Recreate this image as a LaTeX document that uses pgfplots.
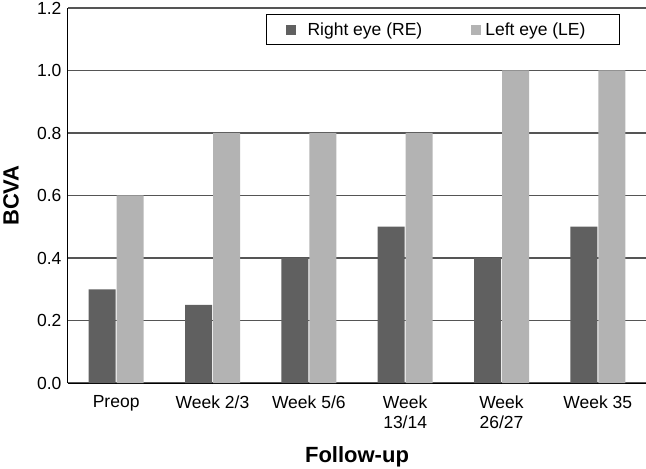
\documentclass[border=0pt]{standalone}
\usepackage{pgfplots}
\pgfplotsset{compat=1.18}
\usepackage{fontspec}
\setmainfont{Liberation Sans}
\definecolor{reCol}{HTML}{606060}
\definecolor{leCol}{HTML}{B3B3B3}
\definecolor{gridCol}{HTML}{555555}
\begin{document}
\begin{tikzpicture}
\begin{axis}[
  name=ax,
  scale only axis,
  width=578pt, height=375pt,
  xmin=-0.5, xmax=5.5,
  ymin=0, ymax=1.2,
  ybar=1pt, bar width=27pt,
  axis x line*=bottom, axis y line*=left,
  axis line style={black, line width=1pt, -},
  xtick={0,1,2,3,4,5},
  xticklabels={Preop, Week 2/3, Week 5/6, {Week\\ 13/14}, {Week\\26/27}, Week 35},
  x tick label style={align=center, font=\fontsize{17.5}{20}\selectfont, anchor=north, yshift=-9pt},
  ytick={0,0.2,0.4,0.6,0.8,1.0,1.2},
  y tick label style={font=\fontsize{17.5}{21}\selectfont, xshift=-3pt},
  /pgf/number format/assume math mode=true,
  yticklabel style={/pgf/number format/.cd, fixed, fixed zerofill, precision=1},
  major tick length=0pt,
  ymajorgrids,
  grid style={gridCol, line width=1.3pt},
  ylabel={\bfseries BCVA},
  ylabel style={font=\fontsize{22}{26}\selectfont, at={(axis description cs:-0.1125,0.5)}, anchor=north, inner sep=0pt},
  xlabel={\bfseries Follow-up},
  xlabel style={font=\fontsize{22}{26}\selectfont, at={(rel axis cs:0.5,0)}, anchor=base, yshift=-79pt},
  legend columns=2,
  legend style={at={(rel axis cs:1,1)}, anchor=north east, xshift=-26pt, yshift=-6pt,
    draw=black, line width=1pt, font=\fontsize{17.5}{21}\selectfont,
    inner xsep=19pt, inner ysep=6pt,
    /tikz/column 1/.style={column sep=10pt},
    /tikz/column 2/.style={column sep=47pt},
    /tikz/column 3/.style={column sep=2pt}},
  legend image code/.code={\fill[#1, draw=none] (0pt,-5pt) rectangle (10pt,5pt);},
]
\addplot[fill=reCol, draw=none] coordinates {(0,0.3) (1,0.25) (2,0.4) (3,0.5) (4,0.4) (5,0.5)};
\addplot[fill=leCol, draw=none] coordinates {(0,0.6) (1,0.8) (2,0.8) (3,0.8) (4,1.0) (5,1.0)};
\legend{Right eye (RE), Left eye (LE)\hspace*{13pt}}
\end{axis}
\pgfresetboundingbox
\path ([shift={(-68pt,-86pt)}]ax.south west) rectangle ([shift={(0pt,8pt)}]ax.north east);
\end{tikzpicture}
\end{document}
